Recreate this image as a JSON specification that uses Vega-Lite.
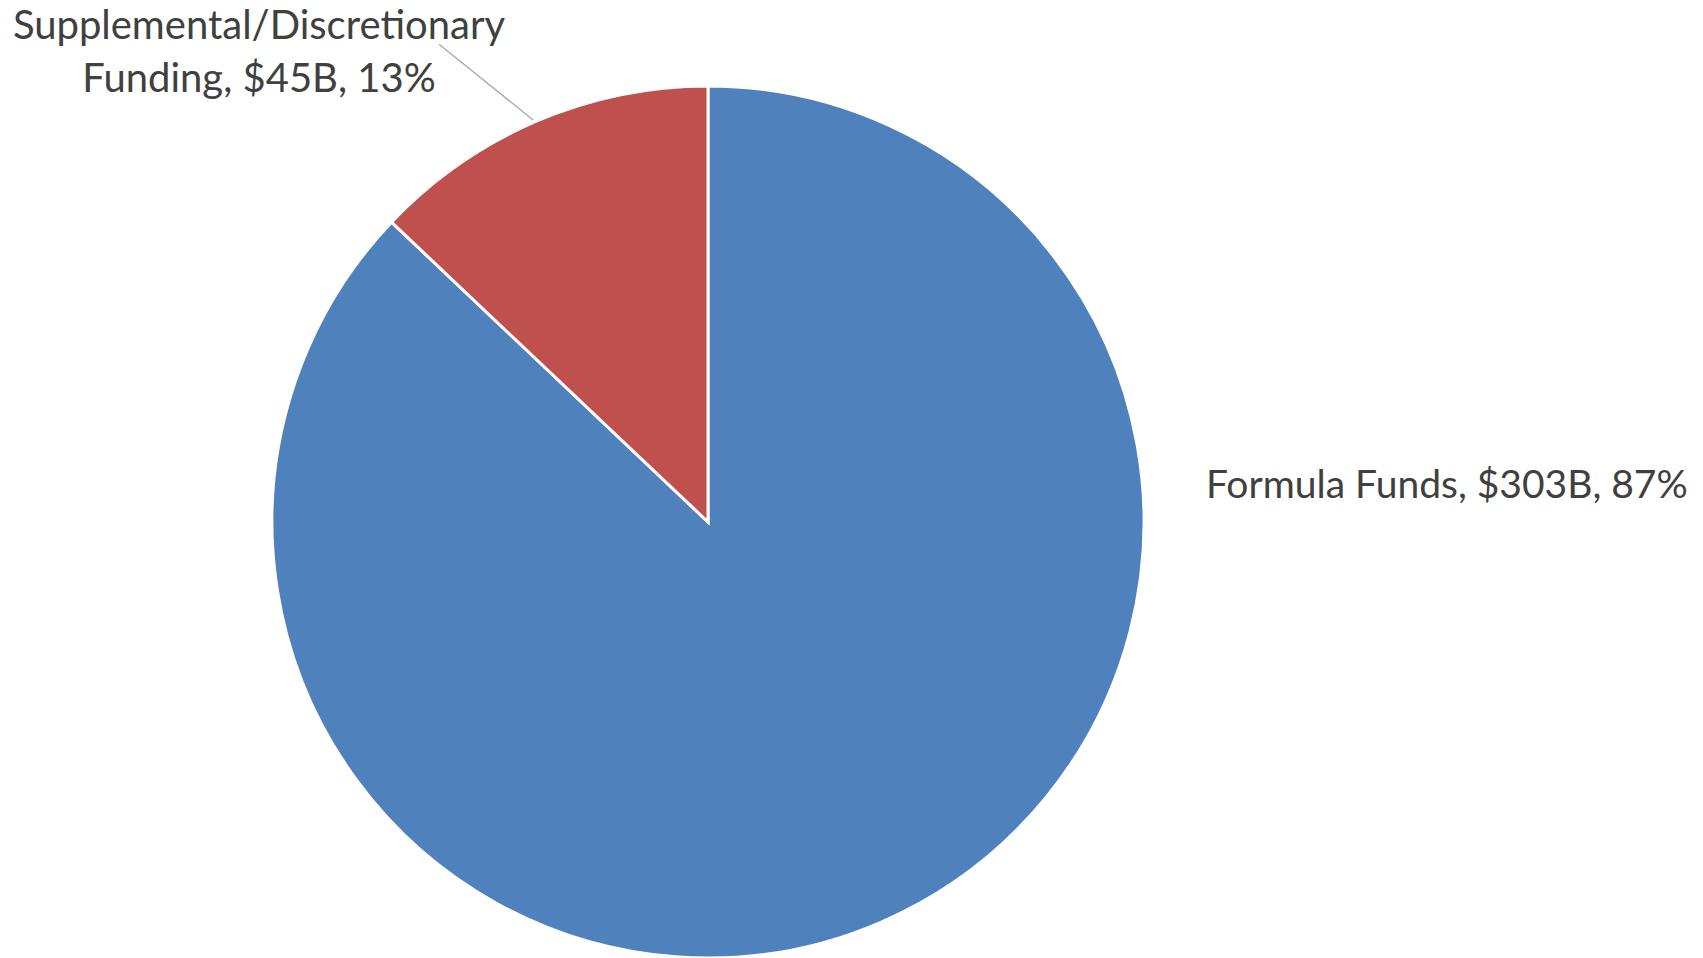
{
  "$schema": "https://vega.github.io/schema/vega-lite/v6.json",
  "width": 872,
  "height": 872,
  "autosize": {"type": "none"},
  "padding": {"left": 272, "right": 559, "top": 86, "bottom": 0},
  "background": "white",
  "config": {"view": {"stroke": null}},
  "data": {
    "values": [
      {"category": "Formula Funds", "amount": 303},
      {"category": "Supplemental/Discretionary Funding", "amount": 45}
    ]
  },
  "transform": [
    {"joinaggregate": [{"op": "sum", "field": "amount", "as": "total"}]},
    {"calculate": "replace(datum.category, '/Discretionary ', '/Discretionary\\n') + ', $' + datum.amount + 'B, ' + format(datum.amount / datum.total, '.0%')", "as": "label"}
  ],
  "layer": [
    {
      "mark": {"type": "arc", "stroke": "white", "strokeWidth": 3},
      "encoding": {
        "theta": {"field": "amount", "type": "quantitative", "stack": true},
        "color": {
          "field": "category",
          "type": "nominal",
          "scale": {"domain": ["Formula Funds", "Supplemental/Discretionary Funding"], "range": ["#4F81BD", "#C0504D"]},
          "legend": null
        },
        "order": {"field": "category", "sort": "ascending"}
      }
    },
    {
      "transform": [{"filter": "datum.category == 'Supplemental/Discretionary Funding'"}],
      "mark": {
        "type": "point",
        "shape": "M-0.401,-0.922L-0.617,-1.096",
        "size": 760384,
        "filled": false,
        "stroke": "#A6A6A6",
        "strokeWidth": 1.3,
        "opacity": 1
      },
      "encoding": {}
    },
    {
      "transform": [{"filter": "datum.category == 'Formula Funds'"}],
      "mark": {"type": "text", "align": "left", "baseline": "alphabetic", "dx": 498, "dy": -24, "font": "Lato", "fontSize": 39, "color": "#404040"},
      "encoding": {"text": {"field": "label", "type": "nominal"}}
    },
    {
      "transform": [{"filter": "datum.category == 'Supplemental/Discretionary Funding'"}],
      "mark": {"type": "text", "align": "center", "baseline": "alphabetic", "dx": -449, "dy": -483, "lineBreak": "\n", "lineHeight": 53, "font": "Lato", "fontSize": 40, "color": "#404040"},
      "encoding": {"text": {"field": "label", "type": "nominal"}}
    }
  ]
}
